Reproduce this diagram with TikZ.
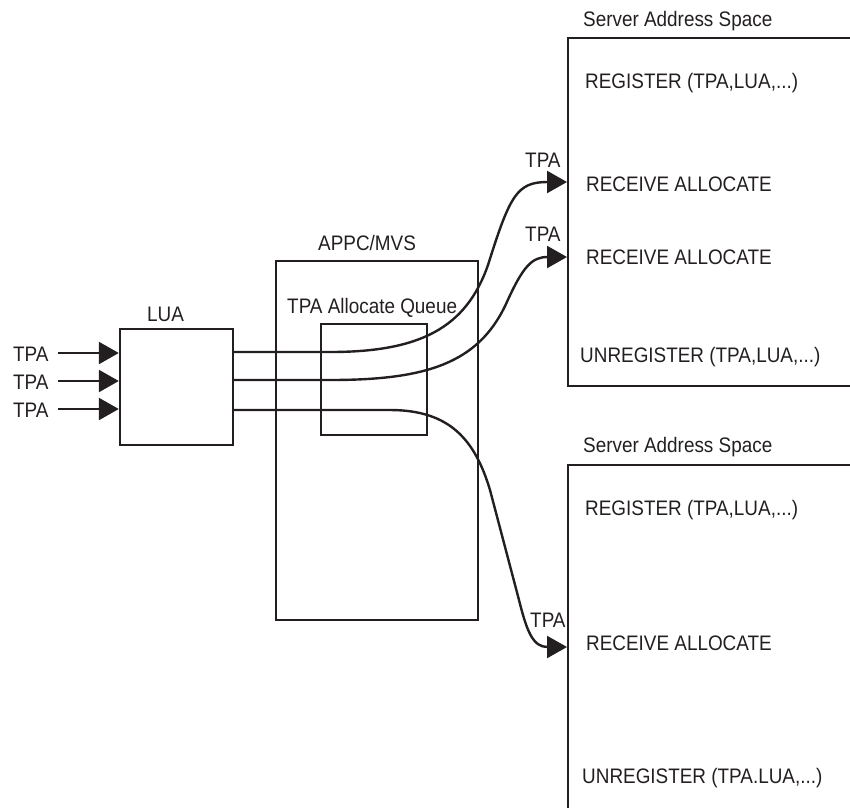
\documentclass[tikz,border=0pt]{standalone}
\usepackage{fontspec}
\setmainfont[FakeStretch=0.9]{Liberation Sans}
\usetikzlibrary{arrows.meta}
\definecolor{ink}{HTML}{231F20}
\tikzset{
  box/.style={draw=ink, line width=2.4pt, inner sep=0pt},
  conn/.style={draw=ink, line width=2.4pt},
  tip/.style={-{Triangle[length=20pt,width=22pt]}},
  lbl/.style={anchor=base west, inner sep=0pt, text=ink, font=\fontsize{21}{25}\selectfont},
}
\begin{document}
\begin{tikzpicture}[x=1pt,y=-1pt]
\useasboundingbox (0,0) rectangle (850,807);
\clip (0,0) rectangle (850,807);

% boxes
\node[box, minimum width=113pt, minimum height=116pt] (lua) at (176.5,387) {};
\node[box, minimum width=202pt, minimum height=359pt] (appc) at (377,440.5) {};
\node[box, minimum width=106pt, minimum height=111pt] (queue) at (374,379.5) {};

% server address spaces (open to the right)
\coordinate (s1nw) at (568,38);
\coordinate (s1sw) at (568,386);
\coordinate (s2nw) at (568,465);
\draw[box] (870,38) -- (s1nw) -- (s1sw) -- (870,386);
\draw[box] (870,465) -- (s2nw) -- (568,830);

% labels
\node[lbl] (lualbl) at (147,321) {LUA};
\node[lbl] (appclbl) at (318,250) {APPC/MVS};
\node[lbl] (qlbl) at (287,313) {TPA Allocate Queue};

\node[lbl] (sas1) at (583,26) {Server Address Space};
\node[lbl] (reg1) at (585,88) {REGISTER (TPA,LUA,...)};
\node[lbl] (rcv1) at (586,191) {RECEIVE ALLOCATE};
\node[lbl] (rcv2) at (586,264) {RECEIVE ALLOCATE};
\node[lbl] (unr1) at (580,362) {UNREGISTER (TPA,LUA,...)};

\node[lbl] (sas2) at (583,452) {Server Address Space};
\node[lbl] (reg2) at (585,515) {REGISTER (TPA,LUA,...)};
\node[lbl] (rcv3) at (586,650) {RECEIVE ALLOCATE};
\node[lbl] (unr2) at (582,783) {UNREGISTER (TPA.LUA,...)};

% input TPAs
\node[lbl] (in1) at (13,361) {TPA};
\node[lbl] (in2) at (13,389) {TPA};
\node[lbl] (in3) at (13,417) {TPA};
\coordinate (a1) at (58,353);
\coordinate (a2) at (58,381);
\coordinate (a3) at (58,409);
\draw[conn,tip] (a1) -- (a1 -| lua.west);
\draw[conn,tip] (a2) -- (a2 -| lua.west);
\draw[conn,tip] (a3) -- (a3 -| lua.west);

% targets
\coordinate (t1) at (567,182);
\coordinate (t2) at (567,257);
\coordinate (t3) at (567,647);
\node[lbl] (tl1) at (525,167) {TPA};
\node[lbl] (tl2) at (525,241) {TPA};
\node[lbl] (tl3) at (530,627) {TPA};

% connectors
\draw[conn,tip] (lua.east |- 0,352) -- (330,352)
  .. controls (420,352) and (466,328) .. (488,265)
  .. controls (510,195) and (517,182) .. (t1);
\draw[conn,tip] (lua.east |- 0,380) -- (330,380)
  .. controls (425,380) and (478,364) .. (506,304)
  .. controls (523,266) and (532,257) .. (t2);
\draw[conn,tip] (lua.east |- 0,410) -- (390,410)
  .. controls (450,410) and (475,440) .. (490,490)
  -- (519,600)
  .. controls (527,632) and (533,647) .. (t3);
\end{tikzpicture}
\end{document}
